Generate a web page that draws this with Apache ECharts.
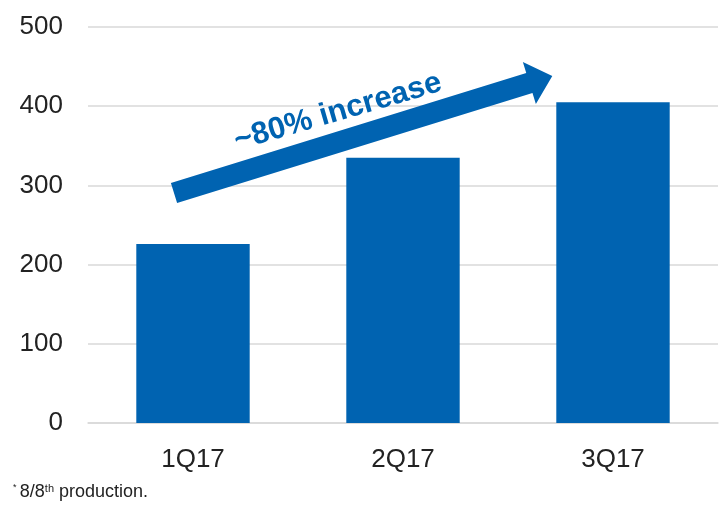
<!DOCTYPE html>
<html>
<head>
<meta charset="utf-8">
<script src="https://cdn.jsdelivr.net/npm/echarts@6/dist/echarts.min.js"></script>
<style>html,body{margin:0;padding:0;background:#fff}#c{width:722px;height:505px}</style>
</head>
<body>
<div id="c"></div>
<script>
const categories = ['1Q17', '2Q17', '3Q17'];
const values = [226, 335, 405];
const yTicks = [0, 100, 200, 300, 400, 500];

const chart = echarts.init(document.getElementById('c'));
const blue = '#0063B1';
const L = 396, hw = 10.5, headL = 24, headW = 22;
chart.setOption({
  animation: false,
  grid: { left: 88, right: 4, top: 27, bottom: 82 },
  xAxis: {
    type: 'category',
    data: categories,
    axisLine: { show: true, lineStyle: { color: '#d9d9d9', width: 1.5 } },
    axisTick: { show: false },
    axisLabel: { color: '#222', fontFamily: 'Liberation Sans, Arial', fontSize: 26, margin: 24 }
  },
  yAxis: {
    type: 'value',
    min: yTicks[0], max: yTicks[yTicks.length - 1], interval: 100,
    axisLine: { show: false },
    axisTick: { show: false },
    splitLine: { lineStyle: { color: '#d9d9d9', width: 1.5 } },
    axisLabel: { color: '#222', fontFamily: 'Liberation Sans, Arial', fontSize: 26, margin: 25 }
  },
  series: [{
    type: 'bar',
    data: values,
    barWidth: '54%',
    itemStyle: { color: blue }
  }],
  graphic: [
    {
      type: 'polygon',
      x: 174, y: 193,
      rotation: Math.atan2(117, 378),
      shape: { points: [[0, -hw], [L - headL, -hw], [L - headL, -headW], [L, 0], [L - headL, headW], [L - headL, hw], [0, hw]] },
      style: { fill: blue },
      z: 100
    },
    {
      type: 'text',
      x: 338, y: 112,
      rotation: Math.atan2(63, 217),
      style: { text: '~80% increase', fill: blue, font: 'bold 31px "Liberation Sans", Arial', textAlign: 'center', textVerticalAlign: 'middle' },
      z: 100
    },
    {
      type: 'text',
      left: 13, top: 483,
      style: {
        text: '{a|*} {n|8/8}{s|th}{n| production.}',
        rich: {
          n: { fill: '#222', font: '18px "Liberation Sans", Arial', verticalAlign: 'bottom' },
          s: { fill: '#222', font: '11px "Liberation Sans", Arial', verticalAlign: 'top', padding: [0, 0, 7, 0] },
          a: { fill: '#222', font: '9px "Liberation Sans", Arial', verticalAlign: 'top', padding: [0, 0, 9, 0] }
        }
      }
    }
  ]
});
</script>
</body>
</html>
